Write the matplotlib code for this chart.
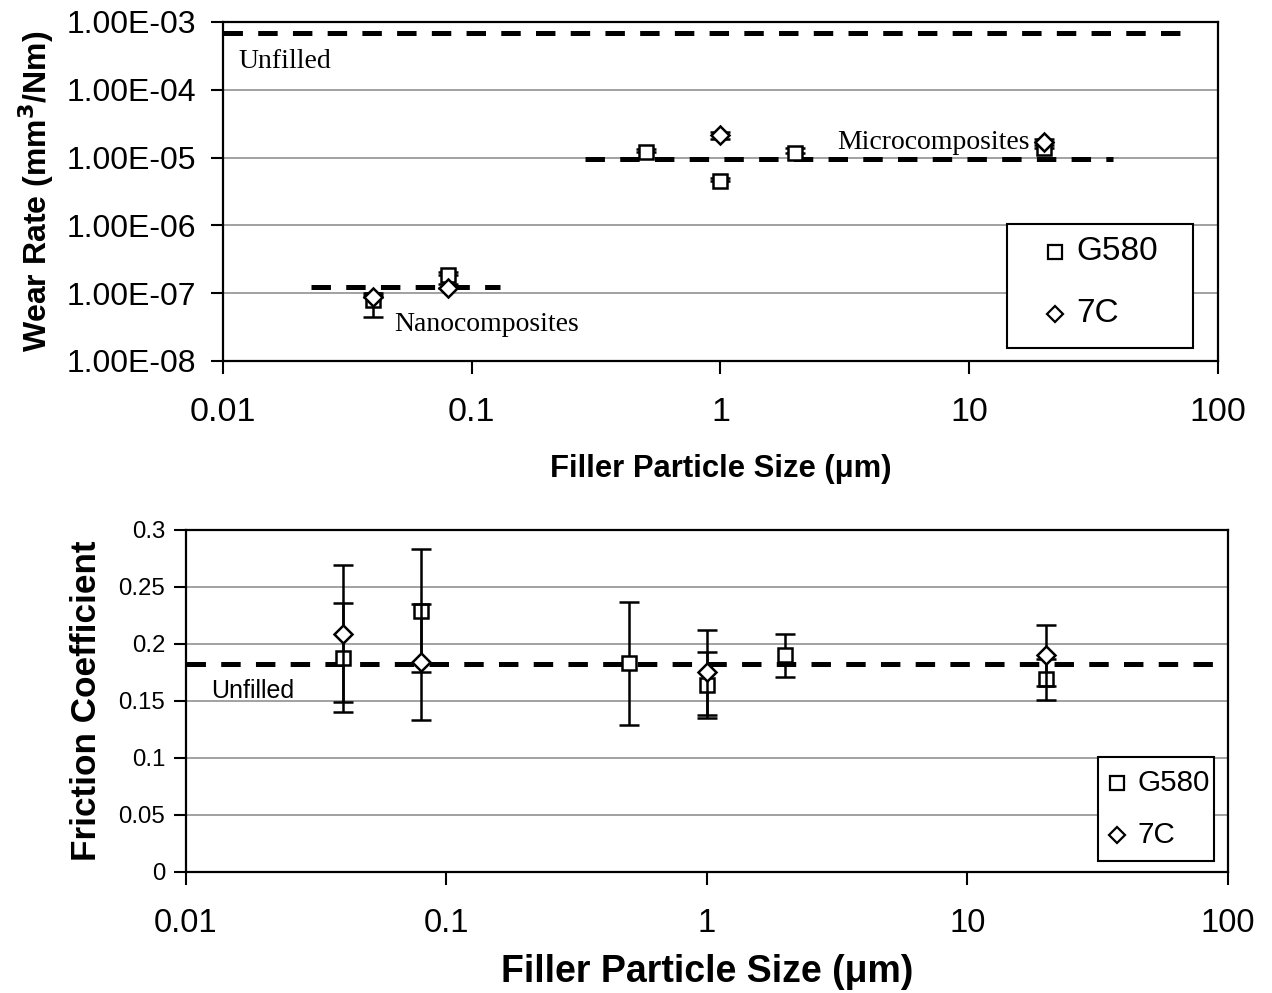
import matplotlib
matplotlib.use("Agg")
import matplotlib.pyplot as plt
from matplotlib.patches import Rectangle
from matplotlib.ticker import FixedLocator, FuncFormatter, NullLocator

plt.rcParams["font.family"] = ["Liberation Sans", "DejaVu Sans"]
plt.rcParams["lines.scale_dashes"] = False

# ---------------- data ----------------
# Wear rate (mm^3/Nm) vs filler particle size (um)
g580_size = [0.04, 0.08, 0.5, 1.0, 2.0, 20.0]
g580_wear = [7.9e-8, 1.85e-7, 1.2e-5, 4.5e-6, 1.15e-5, 1.4e-5]
g580_wear_err_lo = [3.4e-8, 0.0, 0.0, 0.0, 0.0, 0.0]
g580_wear_err_hi = [1.5e-8, 2.0e-8, 1.5e-6, 5e-7, 2.5e-6, 1.5e-6]

c7_size = [0.04, 0.08, 1.0, 20.0]
c7_wear = [8.8e-8, 1.2e-7, 2.15e-5, 1.7e-5]
c7_wear_err_lo = [0.0, 0.0, 3e-6, 0.0]
c7_wear_err_hi = [1.2e-8, 1.5e-8, 2.5e-6, 2.0e-6]

unfilled_wear = 6.9e-4
unfilled_span = [0.01, 80.0]
micro_wear = 9.5e-6
micro_span = [0.285, 38.0]
nano_wear = 1.23e-7
nano_span = [0.0226, 0.13]

# Friction coefficient vs filler particle size (um)
g580_cof = [0.188, 0.229, 0.183, 0.164, 0.190, 0.169]
g580_cof_err = [0.048, 0.054, 0.054, 0.029, 0.019, 0.018]
c7_cof = [0.209, 0.184, 0.175, 0.190]
c7_cof_err = [0.060, 0.051, 0.037, 0.027]
unfilled_cof = 0.182

series_names = ["G580", "7C"]
decade_ticks = [0.01, 0.1, 1, 10, 100]
decade_labels = ["0.01", "0.1", "1", "10", "100"]
wear_ticks = [1e-8, 1e-7, 1e-6, 1e-5, 1e-4, 1e-3]
cof_ticks = [0, 0.05, 0.1, 0.15, 0.2, 0.25, 0.3]
cof_labels = ["0", "0.05", "0.1", "0.15", "0.2", "0.25", "0.3"]

# ---------------- figure ----------------
fig = plt.figure(figsize=(12.72, 9.93), dpi=100)
ax1 = fig.add_axes([0.1753, 0.6365, 0.7822, 0.3414])
ax2 = fig.add_axes([0.1462, 0.1219, 0.8192, 0.3444])

dash_style = dict(color="black", lw=3.6, dashes=(14, 11))
mk_sq = dict(marker="s", ms=10, mfc="white", mec="black", mew=1.8, ls="none",
             ecolor="black", elinewidth=1.8, capsize=7, capthick=1.8)
mk_di = dict(marker="D", ms=9, mfc="white", mec="black", mew=1.8, ls="none",
             ecolor="black", elinewidth=1.8, capsize=7, capthick=1.8)


def boxed_key(ax, box, marker_x, text_x, rows, fontsize, ms_sq, ms_di):
    """Framed key with one square and one diamond entry (axes coordinates)."""
    x0, y0, x1, y1 = box
    ax.add_patch(Rectangle((x0, y0), x1 - x0, y1 - y0, transform=ax.transAxes,
                           facecolor="white", edgecolor="black", lw=1.5,
                           zorder=6, clip_on=False))
    for name, y, mk, ms in zip(series_names, rows, ["s", "D"], [ms_sq, ms_di]):
        ax.plot([marker_x], [y], marker=mk, ms=ms, mfc="white", mec="black",
                mew=1.6, ls="none", transform=ax.transAxes, zorder=7,
                clip_on=False)
        ax.text(text_x, y, name, fontsize=fontsize, va="center", ha="left",
                transform=ax.transAxes, zorder=7)


# ---- wear rate panel ----
ax1.set_xscale("log")
ax1.set_yscale("log")
ax1.set_xlim(0.01, 100)
ax1.set_ylim(1e-8, 1e-3)

ax1.plot(unfilled_span, [unfilled_wear] * 2, **dash_style)
ax1.plot(micro_span, [micro_wear] * 2, **dash_style)
ax1.plot(nano_span, [nano_wear] * 2, **dash_style)

ax1.errorbar(g580_size, g580_wear, yerr=[g580_wear_err_lo, g580_wear_err_hi],
             zorder=4, **mk_sq)
ax1.errorbar(c7_size, c7_wear, yerr=[c7_wear_err_lo, c7_wear_err_hi],
             zorder=5, **mk_di)

serif = dict(family="Liberation Serif", fontsize=20, va="center", ha="left")
ax1.text(0.0115, 2.6e-4, "Unfilled", **serif)
ax1.text(2.95, 1.64e-5, "Microcomposites", **serif)
ax1.text(0.049, 3.4e-8, "Nanocomposites", **serif)

ax1.yaxis.set_major_locator(FixedLocator(wear_ticks))
ax1.yaxis.set_minor_locator(NullLocator())
ax1.yaxis.set_major_formatter(FuncFormatter(lambda v, p: "%.2E" % v))
ax1.xaxis.set_major_locator(FixedLocator(decade_ticks))
ax1.xaxis.set_minor_locator(NullLocator())
ax1.set_xticklabels(decade_labels)
ax1.grid(axis="y", color="#9a9a9a", lw=1.3)
ax1.set_axisbelow(True)
ax1.tick_params(axis="both", direction="out", length=9, width=1.5, colors="black")
ax1.tick_params(axis="y", labelsize=23, pad=10)
ax1.tick_params(axis="x", labelsize=24.5, pad=17)
for s in ax1.spines.values():
    s.set_linewidth(1.6)
ax1.set_ylabel("Wear Rate (mm$^\\mathbf{3}$/Nm)", fontsize=23, fontweight="bold",
               labelpad=8)
ax1.set_xlabel("Filler Particle Size (\u03bcm)", fontsize=22.3, fontweight="bold",
               labelpad=19)

boxed_key(ax1, (0.788, 0.038, 0.975, 0.404), 0.836, 0.858, [0.3215, 0.1386],
          fontsize=24, ms_sq=9.5, ms_di=8.5)

# ---- friction panel ----
ax2.set_xscale("log")
ax2.set_xlim(0.01, 100)
ax2.set_ylim(0, 0.3)

ax2.axhline(unfilled_cof, **dash_style)
ax2.errorbar(g580_size, g580_cof, yerr=g580_cof_err, zorder=4, **mk_sq)
ax2.errorbar(c7_size, c7_cof, yerr=c7_cof_err, zorder=5, **mk_di)
ax2.text(0.0125, 0.1588, "Unfilled", fontsize=18, va="center", ha="left")

ax2.yaxis.set_major_locator(FixedLocator(cof_ticks))
ax2.set_yticklabels(cof_labels)
ax2.xaxis.set_major_locator(FixedLocator(decade_ticks))
ax2.xaxis.set_minor_locator(NullLocator())
ax2.set_xticklabels(decade_labels)
ax2.grid(axis="y", color="#9a9a9a", lw=1.3)
ax2.set_axisbelow(True)
ax2.tick_params(axis="both", direction="out", length=9, width=1.5, colors="black")
ax2.tick_params(axis="y", labelsize=17.3, pad=6)
ax2.tick_params(axis="x", labelsize=23.5, pad=17)
for s in ax2.spines.values():
    s.set_linewidth(1.6)
ax2.set_ylabel("Friction Coefficient", fontsize=25.3, fontweight="bold", labelpad=11)
ax2.set_xlabel("Filler Particle Size (\u03bcm)", fontsize=27, fontweight="bold",
               labelpad=11)

boxed_key(ax2, (0.875, 0.032, 0.9866, 0.336), 0.8935, 0.9127, [0.260, 0.108],
          fontsize=21.3, ms_sq=10.5, ms_di=8.5)

fig.savefig("out.png", dpi=100, facecolor="white")
